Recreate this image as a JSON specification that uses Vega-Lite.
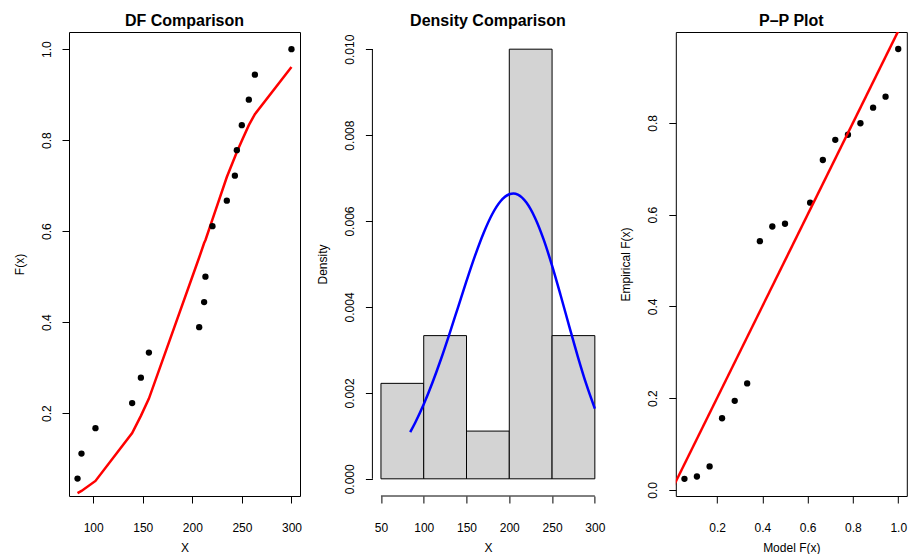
{
  "$schema": "https://vega.github.io/schema/vega-lite/v6.json",
  "background": "white",
  "padding": {"left": 12, "top": 12, "right": 0, "bottom": 0},
  "spacing": 72.4,
  "bounds": "flush",
  "datasets": {
    "pts": [
      {"x": 84.2, "emp": 0.056, "model": 0.024},
      {"x": 88.2, "emp": 0.111, "model": 0.029},
      {"x": 102.3, "emp": 0.167, "model": 0.051},
      {"x": 139.3, "emp": 0.222, "model": 0.156},
      {"x": 148.1, "emp": 0.278, "model": 0.194},
      {"x": 156.2, "emp": 0.333, "model": 0.232},
      {"x": 206.9, "emp": 0.389, "model": 0.542},
      {"x": 211.9, "emp": 0.444, "model": 0.574},
      {"x": 213.2, "emp": 0.5, "model": 0.58},
      {"x": 220.3, "emp": 0.611, "model": 0.626},
      {"x": 234.8, "emp": 0.667, "model": 0.719},
      {"x": 242.9, "emp": 0.722, "model": 0.763},
      {"x": 244.9, "emp": 0.778, "model": 0.774},
      {"x": 249.9, "emp": 0.833, "model": 0.799},
      {"x": 257.0, "emp": 0.889, "model": 0.833},
      {"x": 263.1, "emp": 0.944, "model": 0.857},
      {"x": 300.0, "emp": 1.0, "model": 0.961}
    ],
    "hist": [
      {"start": 50, "end": 100, "density": 0.002222},
      {"start": 100, "end": 150, "density": 0.003333},
      {"start": 150, "end": 200, "density": 0.001111},
      {"start": 200, "end": 250, "density": 0.01},
      {"start": 250, "end": 300, "density": 0.003333}
    ],
    "curve": [
      {"x": 84.2, "density": 0.001088},
      {"x": 90, "density": 0.001306},
      {"x": 100, "density": 0.001735},
      {"x": 110, "density": 0.002229},
      {"x": 120, "density": 0.002777},
      {"x": 130, "density": 0.00337},
      {"x": 140, "density": 0.003987},
      {"x": 150, "density": 0.004605},
      {"x": 160, "density": 0.005194},
      {"x": 170, "density": 0.005722},
      {"x": 180, "density": 0.006158},
      {"x": 190, "density": 0.006466},
      {"x": 200, "density": 0.006624},
      {"x": 205, "density": 0.006642},
      {"x": 210, "density": 0.006615},
      {"x": 220, "density": 0.00643},
      {"x": 230, "density": 0.006077},
      {"x": 240, "density": 0.005578},
      {"x": 250, "density": 0.004962},
      {"x": 260, "density": 0.004272},
      {"x": 270, "density": 0.003555},
      {"x": 280, "density": 0.002852},
      {"x": 290, "density": 0.002202},
      {"x": 300, "density": 0.001634}
    ]
  },
  "config": {
    "font": "Liberation Sans",
    "view": {"stroke": "black", "strokeWidth": 1},
    "axis": {
      "domain": false,
      "grid": false,
      "tickColor": "black",
      "tickSize": 7,
      "tickWidth": 1,
      "labelColor": "black",
      "labelFontSize": 12,
      "labelFont": "Liberation Sans",
      "titleFont": "Liberation Sans",
      "titleFontSize": 12,
      "titleFontWeight": "normal",
      "titleColor": "black",
      "labelFlush": false,
      "labelOverlap": false
    },
    "axisX": {
      "labelBaseline": "middle",
      "labelPadding": 24.5,
      "titleY": 51.5,
      "titleBaseline": "middle"
    },
    "axisY": {
      "labelAngle": -90,
      "labelAlign": "center",
      "labelBaseline": "middle",
      "labelPadding": 16,
      "titleX": -50,
      "titleY": 232,
      "titleAngle": -90,
      "titleAlign": "center",
      "titleBaseline": "middle"
    },
    "title": {
      "fontSize": 16,
      "fontWeight": "bold",
      "font": "Liberation Sans",
      "color": "black",
      "offset": 3,
      "baseline": "alphabetic",
      "anchor": "middle",
      "frame": "group"
    }
  },
  "hconcat": [
    {
      "width": 231,
      "height": 464,
      "title": "DF Comparison",
      "data": {"name": "pts"},
      "layer": [
        {
          "mark": {"type": "line", "color": "#FF0000", "strokeWidth": 2.5, "clip": true},
          "encoding": {
            "x": {"field": "x", "type": "quantitative", "scale": {"domain": [75.6, 308.6], "nice": false, "zero": false}, "axis": {"values": [100, 150, 200, 250, 300], "title": "X"}},
            "y": {"field": "model", "type": "quantitative", "scale": {"domain": [0.0178, 1.0378], "nice": false, "zero": false}, "axis": {"values": [0.2, 0.4, 0.6, 0.8, 1.0], "format": ".1f", "title": "F(x)"}}
          }
        },
        {
          "mark": {"type": "circle", "color": "black", "size": 40, "opacity": 1},
          "encoding": {
            "x": {"field": "x", "type": "quantitative"},
            "y": {"field": "emp", "type": "quantitative"}
          }
        }
      ]
    },
    {
      "width": 231,
      "height": 464,
      "title": "Density Comparison",
      "view": {"stroke": null},
      "layer": [
        {
          "data": {"name": "hist"},
          "mark": {"type": "rect", "fill": "#D3D3D3", "stroke": "black", "strokeWidth": 1},
          "encoding": {
            "x": {"field": "start", "type": "quantitative", "scale": {"domain": [40, 310], "nice": false, "zero": false}, "axis": {"values": [50, 100, 150, 200, 250, 300], "title": "X"}},
            "x2": {"field": "end"},
            "y": {"field": "density", "type": "quantitative", "scale": {"domain": [-0.0004, 0.0104], "nice": false, "zero": false}, "axis": {"values": [0, 0.002, 0.004, 0.006, 0.008, 0.01], "format": ".3f", "title": "Density"}},
            "y2": {"datum": 0}
          }
        },
        {
          "data": {"name": "curve"},
          "mark": {"type": "line", "color": "#0000FF", "strokeWidth": 2.5, "interpolate": "monotone"},
          "encoding": {
            "x": {"field": "x", "type": "quantitative"},
            "y": {"field": "density", "type": "quantitative"}
          }
        },
        {
          "data": {"values": [{}]},
          "mark": {"type": "rule", "color": "black", "strokeWidth": 1},
          "encoding": {"x": {"datum": 50}, "x2": {"datum": 300}, "y": {"datum": -0.0004}}
        },
        {
          "data": {"values": [{}]},
          "mark": {"type": "rule", "color": "black", "strokeWidth": 1},
          "encoding": {"x": {"datum": 40}, "y": {"datum": 0}, "y2": {"datum": 0.01}}
        }
      ]
    },
    {
      "width": 231,
      "height": 464,
      "title": "P–P Plot",
      "layer": [
        {
          "data": {"name": "pts"},
          "mark": {"type": "circle", "color": "black", "size": 40, "opacity": 1},
          "encoding": {
            "x": {"field": "emp", "type": "quantitative", "scale": {"domain": [0.0178, 1.0378], "nice": false, "zero": false}, "axis": {"values": [0.2, 0.4, 0.6, 0.8, 1.0], "format": ".1f", "title": "Model F(x)"}},
            "y": {"field": "model", "type": "quantitative", "scale": {"domain": [-0.0135, 0.998], "nice": false, "zero": false}, "axis": {"values": [0, 0.2, 0.4, 0.6, 0.8], "format": ".1f", "title": "Empirical F(x)"}}
          }
        },
        {
          "data": {"values": [{}]},
          "mark": {"type": "rule", "color": "#FF0000", "strokeWidth": 2.5, "clip": true},
          "encoding": {"x": {"datum": 0}, "y": {"datum": 0}, "x2": {"datum": 1.05}, "y2": {"datum": 1.05}}
        }
      ]
    }
  ]
}
